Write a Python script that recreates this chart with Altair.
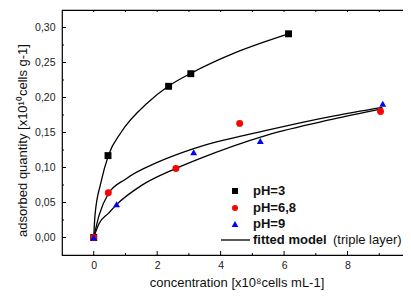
import altair as alt
import pandas as pd

# ---- measured data ----
ph3_x = [0, 0.45, 2.36, 3.06, 6.14]
ph3_y = [0, 0.117, 0.216, 0.234, 0.291]
ph68_x = [0, 0.46, 2.59, 4.60, 9.04]
ph68_y = [0, 0.064, 0.0985, 0.163, 0.180]
ph9_x = [0, 0.72, 3.15, 5.25, 9.11]
ph9_y = [0, 0.0476, 0.1217, 0.138, 0.191]

# fitted model curves
fit3_x = [0, 0.04, 0.23, 0.46, 0.86, 1.70, 2.35, 3.06, 4.54, 6.14]
fit3_y = [0, 0.032, 0.079, 0.117, 0.150, 0.1925, 0.216, 0.2345, 0.2655, 0.291]
fitA_x = [0, 0.17, 0.46, 0.99, 2.04, 3.15, 5.44, 7.54, 9.10]
fitA_y = [0, 0.032, 0.0625, 0.083, 0.108, 0.127, 0.153, 0.1735, 0.186]
fitB_x = [0, 0.17, 0.46, 0.72, 1.51, 2.56, 3.30, 5.44, 7.54, 9.10]
fitB_y = [0, 0.020, 0.0344, 0.047, 0.0744, 0.098, 0.112, 0.146, 0.169, 0.184]

series_names = ["pH=3", "pH=6,8", "pH=9"]
series_colors = ["#000000", "#ff0000", "#0000ff"]
series_shapes = ["square", "circle", "triangle-up"]
series_sizes = [48, 48, 66]

x_labels = [0, 2, 4, 6, 8, 10]
x_minor = [1, 3, 5, 7, 9]
x_top = [0, 1, 2, 3, 4, 5, 6, 7, 8, 9, 10]
y_labels = [0.0, 0.05, 0.10, 0.15, 0.20, 0.25, 0.30]
y_minor = [0.025, 0.075, 0.125, 0.175, 0.225, 0.275]

FONT = "Liberation Sans"

# ---- tables ----
pts = pd.DataFrame(
    [{"s": series_names[0], "x": a, "y": b} for a, b in zip(ph3_x, ph3_y)]
    + [{"s": series_names[1], "x": a, "y": b} for a, b in zip(ph68_x, ph68_y)]
    + [{"s": series_names[2], "x": a, "y": b} for a, b in zip(ph9_x, ph9_y)]
)
pts["o"] = range(len(pts))
fits = pd.DataFrame(
    [{"c": "3", "x": a, "y": b} for a, b in zip(fit3_x, fit3_y)]
    + [{"c": "A", "x": a, "y": b} for a, b in zip(fitA_x, fitA_y)]
    + [{"c": "B", "x": a, "y": b} for a, b in zip(fitB_x, fitB_y)]
)

W = 349
H = 245

xs = alt.Scale(domain=[-1, 10], nice=False, zero=False)
ys = alt.Scale(domain=[-0.025, 0.325], nice=False, zero=False)
xaxis = alt.Axis(values=x_labels, ticks=False, domain=False, grid=False,
                 labelFlush=False, labelOverlap=False, labelPadding=5,
                 labelFontSize=10.5, labelFont=FONT, labelColor="#222",
                 title="concentration [x10\u2078cells mL-1]", titleFont=FONT,
                 titleFontSize=13, titleFontWeight="normal", titleColor="#111",
                 titlePadding=6)
yaxis = alt.Axis(values=y_labels, ticks=False, domain=False, grid=False,
                 labelExpr="replace(format(datum.value, '.2f'), '.', ',')",
                 labelPadding=7, labelFontSize=10.5, labelFont=FONT,
                 labelColor="#222", labelOverlap=False,
                 title="adsorbed quantity [x10\u00b9\u2070cells g-1]",
                 titleFont=FONT, titleFontSize=13, titleFontWeight="normal",
                 titleColor="#111", titlePadding=5, titleY=130)
X = alt.X("x:Q", scale=xs, axis=xaxis)
Y = alt.Y("y:Q", scale=ys, axis=yaxis)

lines = alt.Chart(fits).mark_line(interpolate="monotone", color="black",
                                  strokeWidth=1.3).encode(
    x=X, y=Y, detail="c:N")

points = alt.Chart(pts).mark_point(filled=True, opacity=1).encode(
    x=X, y=Y,
    color=alt.Color("s:N", scale=alt.Scale(domain=series_names, range=series_colors), legend=None),
    shape=alt.Shape("s:N", scale=alt.Scale(domain=series_names, range=series_shapes), legend=None),
    size=alt.Size("s:N", scale=alt.Scale(domain=series_names, range=series_sizes), legend=None),
    order="o:Q",
)

def xticks(vals, y1, y2):
    return alt.Chart(pd.DataFrame({"x": vals})).mark_rule(color="black", strokeWidth=1).encode(
        x=X, y=alt.value(y1), y2=alt.value(y2))

def yticks(vals, x1, x2):
    return alt.Chart(pd.DataFrame({"y": vals})).mark_rule(color="black", strokeWidth=1).encode(
        y=Y, x=alt.value(x1), x2=alt.value(x2))

ticks = [
    xticks(x_labels, H, H - 4),
    xticks(x_minor, H, H - 2),
    xticks(x_top, 0, 2),
    yticks(y_labels, 0, 4),
    yticks(y_minor, 0, 2),
]

one = alt.Data(values=[{"a": 1}])

def lg_sym(shape, color, py, size):
    return alt.Chart(one).mark_point(shape=shape, color=color, filled=True,
                                     opacity=1, size=size).encode(
        x=alt.value(173), y=alt.value(py))

def lg_text(txt, px, py, weight):
    return alt.Chart(one).mark_text(align="left", baseline="middle", font=FONT,
                                    fontSize=13, fontWeight=weight, color="#111").encode(
        x=alt.value(px), y=alt.value(py), text=alt.value(txt))

legend = [
    lg_sym(series_shapes[0], series_colors[0], 181, 36),
    lg_sym(series_shapes[1], series_colors[1], 198, 36),
    lg_sym(series_shapes[2], series_colors[2], 214, 46),
    alt.Chart(one).mark_rule(color="black", strokeWidth=1.3).encode(
        x=alt.value(159), x2=alt.value(188), y=alt.value(230)),
    lg_text(series_names[0], 191, 181, "bold"),
    lg_text(series_names[1], 191, 198, "bold"),
    lg_text(series_names[2], 191, 214, "bold"),
    lg_text("fitted model", 191, 230, "bold"),
    lg_text("(triple layer)", 271, 230, "normal"),
]

chart = alt.layer(lines, points, *ticks, *legend).properties(
    width=W, height=H,
    autosize=alt.AutoSizeParams(type="none"),
    padding={"left": 54, "top": 2, "right": -8, "bottom": 35},
).configure_view(stroke="black", strokeWidth=1.2)

chart.save("out.html", embed_options={"renderer": "svg", "actions": False})
